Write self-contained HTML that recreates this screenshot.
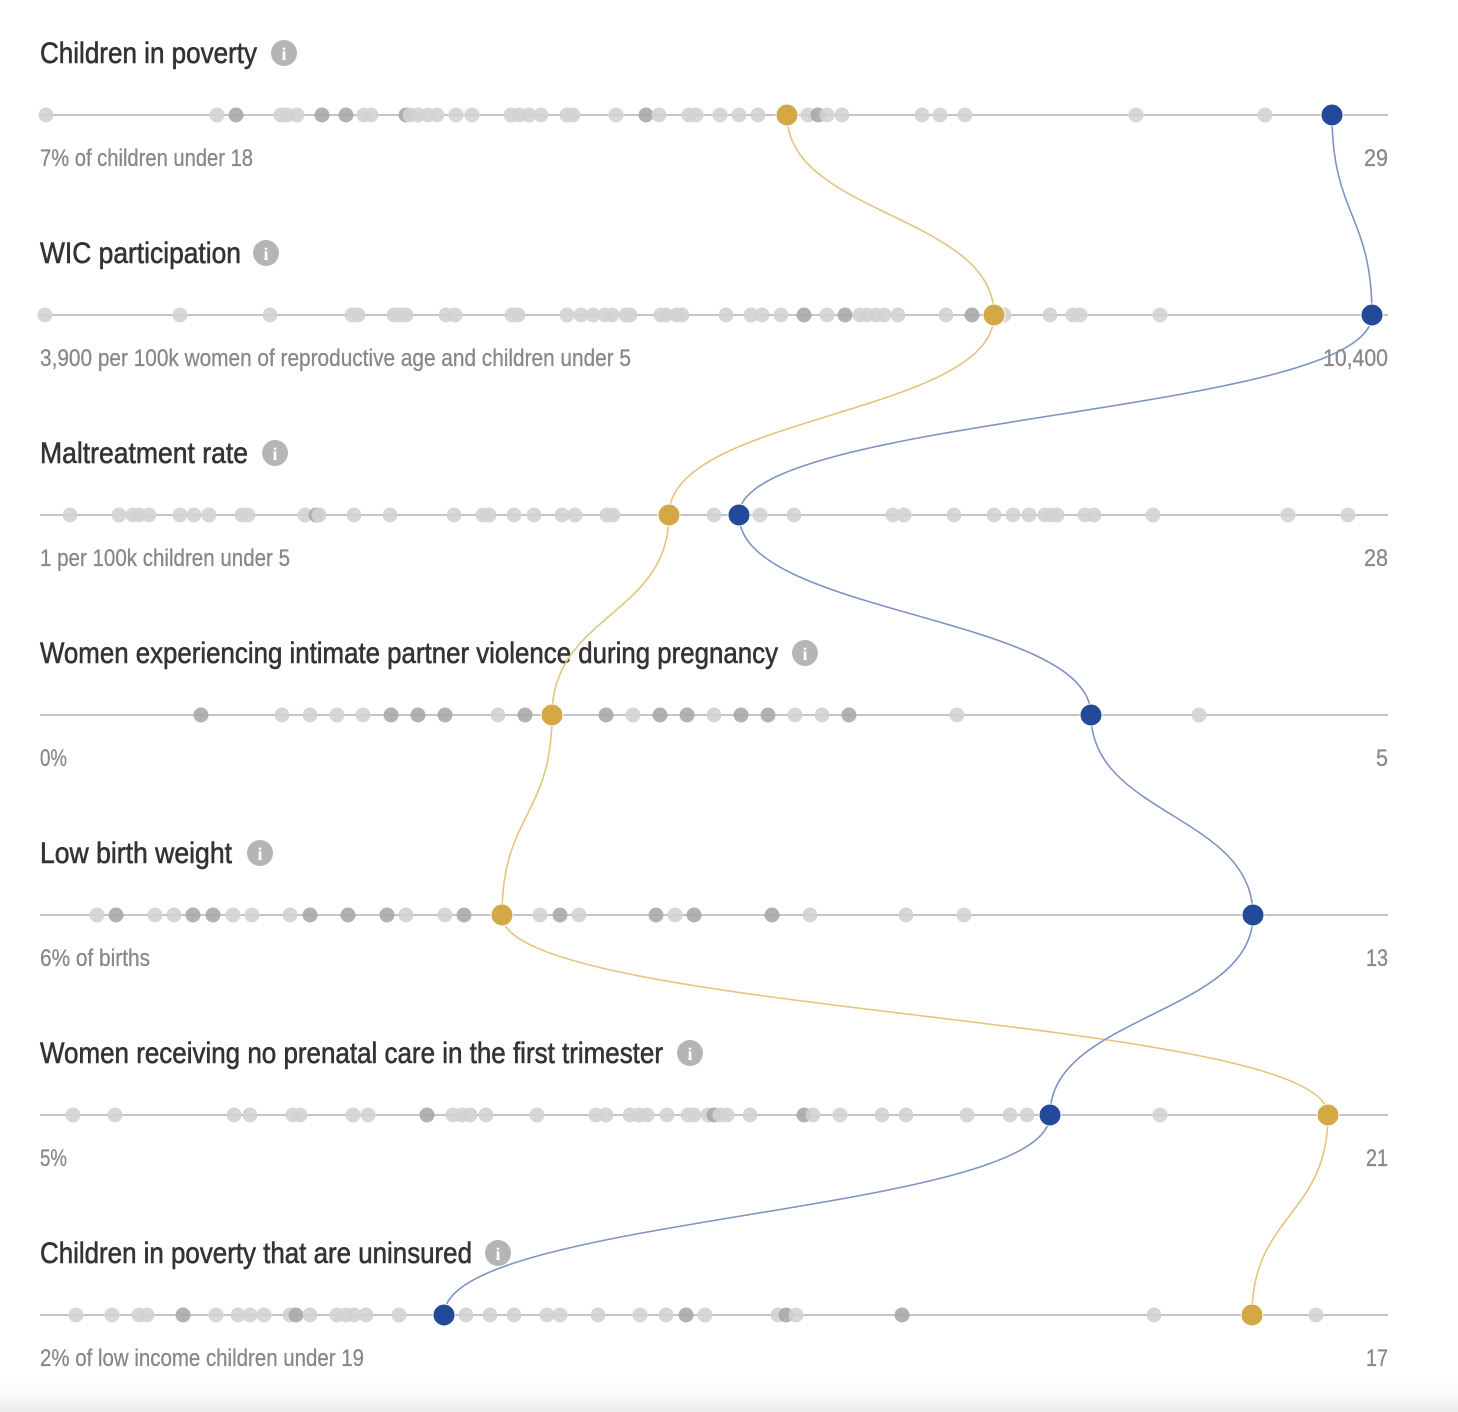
<!DOCTYPE html>
<html><head><meta charset="utf-8">
<style>
html,body{margin:0;padding:0;background:#fff;}
svg{display:block;}
.t{font-family:"Liberation Sans Narrow","Liberation Sans",sans-serif;font-size:30px;fill:#333;stroke:#333;stroke-width:0.6;}
.l{font-family:"Liberation Sans Narrow","Liberation Sans",sans-serif;font-size:24px;fill:#888;stroke:#888;stroke-width:0.3;}
.i{font-family:"Liberation Serif",serif;font-size:18px;font-weight:bold;fill:#fff;}
</style></head><body>
<svg id="s" width="1458" height="1412" viewBox="0 0 1458 1412" xmlns="http://www.w3.org/2000/svg">
<defs>
<linearGradient id="bg" x1="0" y1="0" x2="0" y2="1"><stop offset="0" stop-color="#fff" stop-opacity="0"/><stop offset="1" stop-color="#ececec"/></linearGradient>
</defs>
<rect x="0" y="1372" width="1458" height="40" fill="url(#bg)"/>
</svg>
<script>
var rows=[
{t:"Children in poverty",tw:217,ic:284,l:"7% of children under 18",lw:213,r:"29",rw:24,
 g:[46,217,'236',281,287,297,'322','346',364,371,'406',410,418,428,437,456,472,511,519,529,541,567,573,616,'646',659,689,696,720,739,758,808,'818',827,842,922,940,965,1136,1265],gold:787,blue:1332},
{t:"WIC participation",tw:201,ic:266,l:"3,900 per 100k women of reproductive age and children under 5",lw:591,r:"10,400",rw:65,
 g:[45,180,270,352,358,394,400,406,446,455,512,518,567,581,593,605,612,626,630,661,666,677,682,726,751,762,781,'804',827,'845',860,867,876,884,898,946,'972',1004,1050,1073,1080,1160],gold:994,blue:1372},
{t:"Maltreatment rate",tw:208,ic:275,l:"1 per 100k children under 5",lw:250,r:"28",rw:24,
 g:[70,119,133,139,149,180,194,209,242,248,305,'316',319,354,390,454,483,489,514,534,562,575,607,613,714,760,794,893,904,954,994,1013,1029,1045,1051,1057,1085,1094,1153,1288,1348],gold:669,blue:739},
{t:"Women experiencing intimate partner violence during pregnancy",tw:738,ic:805,l:"0%",lw:27,r:"5",rw:12,
 g:['201',282,310,337,363,'391','418','445',498,'525','606',633,'660','687',714,'741','768',795,822,'849',957,1199],gold:552,blue:1091},
{t:"Low birth weight",tw:192,ic:260,l:"6% of births",lw:110,r:"13",rw:22,
 g:[97,'116',155,174,'193','213',233,252,290,'310','348','387',406,445,'464',540,'560',579,'656',675,'694','772',810,906,964],gold:502,blue:1253},
{t:"Women receiving no prenatal care in the first trimester",tw:623,ic:690,l:"5%",lw:27,r:"21",rw:22,
 g:[73,115,234,250,293,300,353,368,'427',453,462,470,486,537,596,606,630,639,647,667,688,694,708,'714',720,727,750,'804',813,840,882,906,967,1010,1027,1160],gold:1328,blue:1050},
{t:"Children in poverty that are uninsured",tw:432,ic:498,l:"2% of low income children under 19",lw:324,r:"17",rw:22,
 g:[76,112,139,147,'183',216,238,250,264,290,'296',310,337,346,354,366,399,466,490,514,547,560,598,640,666,'686',705,778,'786',796,'902',1154,1316],gold:1252,blue:444}
];
var s=document.getElementById('s'),h='',curves='';
function bump(x1,y1,x2,y2){var m=(y1+y2)/2;return 'M'+x1+' '+y1+'C'+x1+' '+m+' '+x2+' '+m+' '+x2+' '+y2;}
rows.forEach(function(r,i){
 var y=115+200*i;
 h+='<text class="t" x="40" y="'+(y-52)+'" textLength="'+r.tw+'" lengthAdjust="spacingAndGlyphs">'+r.t+'</text>';
 h+='<circle cx="'+r.ic+'" cy="'+(y-62)+'" r="13" fill="#b5b5b5"/><text class="i" x="'+r.ic+'" y="'+(y-55)+'" text-anchor="middle">i</text>';
 h+='<line x1="40" x2="1388" y1="'+y+'" y2="'+y+'" stroke="#b0b0b0" stroke-width="1.5"/>';
 r.g.forEach(function(x){var d=typeof x==='string';h+='<circle cx="'+(+x)+'" cy="'+y+'" r="7.5" fill="'+(d?'#a9a9a9':'#d3d3d3')+'" fill-opacity="0.9"/>';});
 h+='<text class="l" x="40" y="'+(y+51)+'" textLength="'+r.lw+'" lengthAdjust="spacingAndGlyphs">'+r.l+'</text>';
 h+='<text class="l" x="'+(1388-r.rw)+'" y="'+(y+51)+'" textLength="'+r.rw+'" lengthAdjust="spacingAndGlyphs">'+r.r+'</text>';
 if(i<rows.length-1){var n=rows[i+1];
  curves+='<path d="'+bump(r.gold,y,n.gold,y+200)+'" fill="none" stroke="#e2c57e" stroke-width="1.6"/>';
  curves+='<path d="'+bump(r.blue,y,n.blue,y+200)+'" fill="none" stroke="#7d93c4" stroke-width="1.6"/>';}
});
var dots='';
rows.forEach(function(r,i){var y=115+200*i;
 dots+='<circle cx="'+r.gold+'" cy="'+y+'" r="11" fill="#d4a845" stroke="#fff" stroke-width="1"/>';
 dots+='<circle cx="'+r.blue+'" cy="'+y+'" r="11" fill="#234a98" stroke="#fff" stroke-width="1"/>';});
s.insertAdjacentHTML('beforeend',h+curves+dots);
</script>
</body></html>
